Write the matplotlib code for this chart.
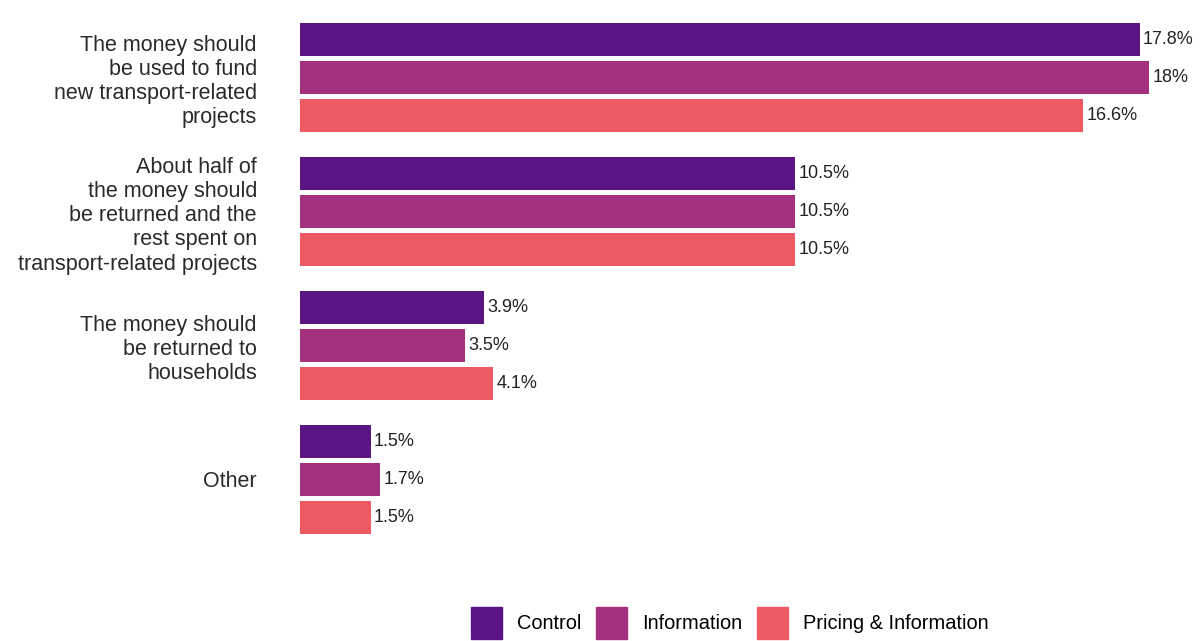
import numpy as np
from matplotlib import pyplot as plt
from matplotlib.patches import Patch

categories = [
    "The money should\nbe used to fund\nnew transport-related\nprojects",
    "About half of\nthe money should\nbe returned and the\nrest spent on\ntransport-related projects",
    "The money should\nbe returned to\nhouseholds",
    "Other",
]
series_names = ["Control", "Information", "Pricing & Information"]
control = [17.8, 10.5, 3.9, 1.5]
information = [18, 10.5, 3.5, 1.7]
pricing = [16.6, 10.5, 4.1, 1.5]
colors = ["#5a1585", "#a5317e", "#ee5a64"]


def main():
    plt.rcParams["font.family"] = ["Liberation Sans", "DejaVu Sans"]
    figure = plt.figure(figsize=(12.01, 6.41), dpi=100)
    axis = figure.add_axes([300 / 1201, 81 / 641, 901 / 1201, 560 / 641])

    centers = np.arange(len(categories))
    step = 0.284
    height = 0.246
    all_values = [control, information, pricing]

    for index, values in enumerate(all_values):
        positions = centers + (index - 1) * step
        axis.barh(positions, values, height=height, color=colors[index])
        for position, value in zip(positions, values):
            axis.text(
                value + 0.07,
                position,
                f"{value:g}%",
                va="center",
                ha="left",
                fontsize=13,
                color="#222222",
            )

    axis.set_xlim(0, 901 / 47.17)
    axis.set_ylim(3.601, -0.579)
    axis.set_yticks(centers)
    axis.set_yticklabels(categories, fontsize=15.5, linespacing=1.2,
                         color="#2a2a2a")
    axis.tick_params(axis="y", length=0, pad=31)
    axis.set_xticks([])
    for spine in axis.spines.values():
        spine.set_visible(False)

    handles = [Patch(color=color, label=name)
               for color, name in zip(colors, series_names)]
    figure.legend(
        handles=handles,
        loc="center",
        bbox_to_anchor=(730 / 1201, 1 - 623 / 641),
        ncol=3,
        frameon=False,
        fontsize=14.4,
        handlelength=1.55,
        handleheight=2.1,
        handletextpad=0.75,
        columnspacing=0.75,
    )

    figure.savefig("out.png", dpi=100)


main()
